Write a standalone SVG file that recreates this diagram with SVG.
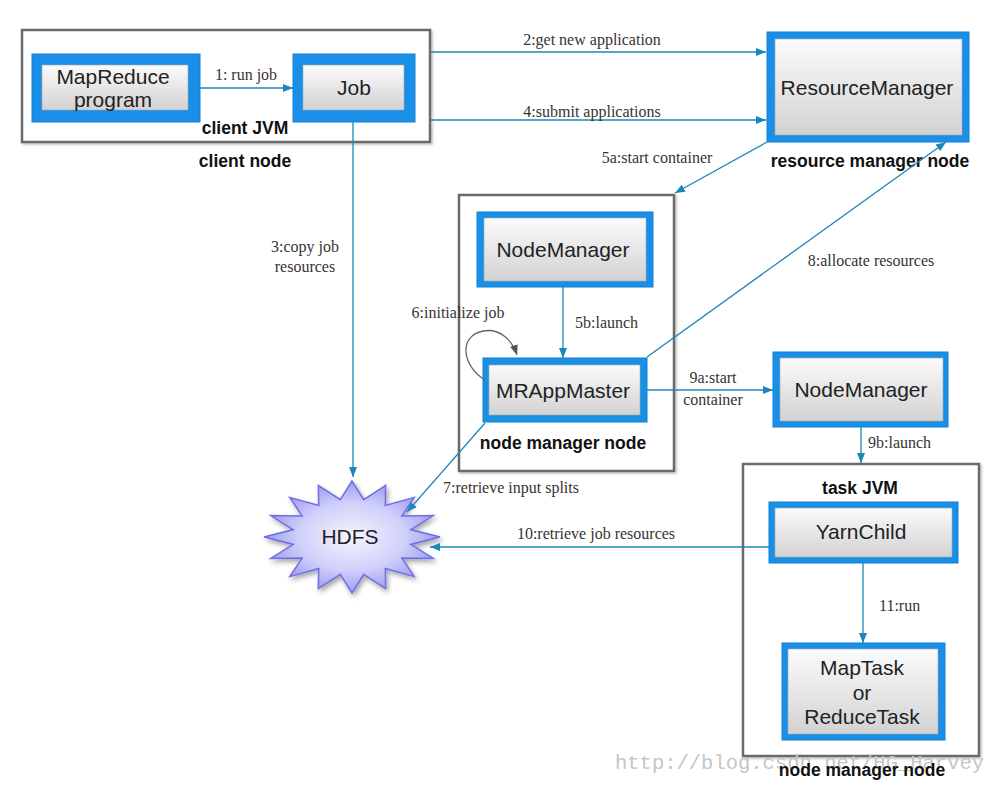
<svg xmlns="http://www.w3.org/2000/svg" width="1002" height="785" viewBox="0 0 1002 785">
<defs>
<linearGradient id="gInner" x1="0" y1="0" x2="0" y2="1">
<stop offset="0" stop-color="#fbfbfb"/>
<stop offset="1" stop-color="#d2d2d2"/>
</linearGradient>
<radialGradient id="gStar" cx="0.5" cy="0.5" r="0.5">
<stop offset="0" stop-color="#f4f4ff"/>
<stop offset="0.6" stop-color="#d0d0fa"/>
<stop offset="1" stop-color="#9c9cf0"/>
</radialGradient>
<filter id="shadow" x="-20%" y="-20%" width="140%" height="140%">
<feDropShadow dx="2" dy="3" stdDeviation="2.5" flood-color="#000" flood-opacity="0.35"/>
</filter>
<filter id="boxShadow" x="-5%" y="-5%" width="110%" height="110%">
<feDropShadow dx="1.5" dy="1.5" stdDeviation="1.2" flood-color="#000" flood-opacity="0.25"/>
</filter>
<marker id="arr" markerWidth="10" markerHeight="8" refX="10" refY="4" orient="auto" markerUnits="userSpaceOnUse">
<path d="M0,0 L10,4 L0,8 z" fill="#1b87b9"/>
</marker>
<marker id="arrGray" markerWidth="10" markerHeight="8" refX="10" refY="4" orient="auto" markerUnits="userSpaceOnUse">
<path d="M0,0 L10,4 L0,8 z" fill="#555"/>
</marker>
</defs>
<style>
.container{fill:#fff;stroke:#6b6b6b;stroke-width:2.5;filter:url(#boxShadow)}
.outer{fill:#1a8fe8;stroke:#0f80d6;stroke-width:1}
.inner{fill:url(#gInner);stroke:#a8a8a8;stroke-width:0.6}
.nt{font-family:"Liberation Sans",Arial,sans-serif;font-size:21px;fill:#222;text-anchor:middle}
.bt{font-family:"Liberation Sans",Arial,sans-serif;font-size:17.5px;font-weight:bold;fill:#111;text-anchor:middle}
.lt{font-family:"Liberation Serif","Times New Roman",serif;font-size:16px;fill:#3a3232}
.c{text-anchor:middle}
.conn{stroke:#1b87b9;stroke-width:1.3;fill:none;marker-end:url(#arr)}
.loop{stroke:#666;stroke-width:1.3;fill:none;marker-end:url(#arrGray)}
.wm{font-family:"Liberation Mono","Courier New",monospace;font-size:20.5px;fill:#c6c6c6}
</style>
<rect width="1002" height="785" fill="#fff"/>

<g id="client-jvm">
<rect class="container" x="22" y="30" width="408" height="112"/>
<text class="bt" x="245" y="134">client JVM</text>
<text class="bt" x="245" y="167">client node</text>
</g>

<g id="nm-container">
<rect class="container" x="459" y="195" width="215" height="276"/>
<text class="bt" x="563" y="449">node manager node</text>
</g>

<g id="task-jvm">
<rect class="container" x="743" y="464" width="236" height="292"/>
<text class="bt" x="860" y="494">task JVM</text>
</g>

<text class="wm" x="615" y="769">http://blog.csdn.net/HG_Harvey</text>
<text class="bt" x="862" y="776">node manager node</text>

<g id="mapreduce-program">
<rect class="outer" x="32" y="54" width="168" height="68"/>
<rect class="inner" x="42" y="65" width="146" height="45"/>
<text class="nt" x="113" y="84">MapReduce</text>
<text class="nt" x="113" y="107">program</text>
</g>

<g id="job">
<rect class="outer" x="293" y="54" width="122" height="68"/>
<rect class="inner" x="303" y="65" width="101" height="45"/>
<text class="nt" x="354" y="95">Job</text>
</g>

<g id="resource-manager">
<rect class="outer" x="767" y="32" width="202" height="110"/>
<rect class="inner" x="775" y="39" width="187" height="96"/>
<text class="nt" x="867" y="95">ResourceManager</text>
<text class="bt" x="870" y="167">resource manager node</text>
</g>

<g id="node-manager-1">
<rect class="outer" x="477" y="212" width="176" height="75"/>
<rect class="inner" x="484" y="218" width="162" height="63"/>
<text class="nt" x="563" y="257">NodeManager</text>
</g>

<g id="mrappmaster">
<rect class="outer" x="483" y="358" width="164" height="64"/>
<rect class="inner" x="489" y="365" width="151" height="50"/>
<text class="nt" x="563" y="398">MRAppMaster</text>
</g>

<g id="node-manager-2">
<rect class="outer" x="773" y="352" width="175" height="75"/>
<rect class="inner" x="780" y="358" width="163" height="63"/>
<text class="nt" x="861" y="397">NodeManager</text>
</g>

<g id="yarnchild">
<rect class="outer" x="769" y="502" width="189" height="61"/>
<rect class="inner" x="775" y="508" width="177" height="49"/>
<text class="nt" x="861" y="539">YarnChild</text>
</g>

<g id="task">
<rect class="outer" x="782" y="643" width="163" height="97"/>
<rect class="inner" x="788" y="649" width="150" height="85"/>
<text class="nt" x="862" y="675">MapTask</text>
<text class="nt" x="862" y="700">or</text>
<text class="nt" x="862" y="724">ReduceTask</text>
</g>

<g id="hdfs">
<polygon filter="url(#shadow)" fill="url(#gStar)" stroke="#6f6fe6" stroke-width="1.5" stroke-linejoin="miter" points="352,481 363.7,499.7 385.7,485.3 385.3,505.4 414.2,497.4 401.9,515.9 433.3,515.6 410.8,529.6 440,537 410.8,544.4 433.3,558.4 401.9,558.1 414.2,576.6 385.3,568.6 385.7,588.7 363.7,574.3 352,593 340.3,574.3 318.3,588.7 318.7,568.6 289.8,576.6 302.1,558.1 270.7,558.4 293.2,544.4 264,537 293.2,529.6 270.7,515.6 302.1,515.9 289.8,497.4 318.7,505.4 318.3,485.3 340.3,499.7"/>
<text class="nt" x="350" y="544">HDFS</text>
</g>

<g id="connectors">
<line class="conn" x1="200" y1="88" x2="293" y2="88"/>
<line class="conn" x1="430" y1="52" x2="766" y2="52"/>
<line class="conn" x1="430" y1="120" x2="766" y2="120"/>
<line class="conn" x1="353" y1="122" x2="353" y2="477"/>
<line class="conn" x1="767" y1="142" x2="675" y2="193"/>
<line class="conn" x1="563" y1="287" x2="563" y2="358"/>
<path class="loop" d="M485,380 C462,366 458,336 483,331 C500,328 512,340 517,355"/>
<line class="conn" x1="485" y1="423" x2="407" y2="512"/>
<line class="conn" x1="647" y1="357" x2="946" y2="142"/>
<line class="conn" x1="647" y1="390" x2="773" y2="390"/>
<line class="conn" x1="861" y1="427" x2="861" y2="463"/>
<line class="conn" x1="769" y1="547" x2="430" y2="547"/>
<line class="conn" x1="863" y1="563" x2="863" y2="643"/>
</g>

<g id="connector-labels">
<text class="lt c" x="246" y="80">1: run job</text>
<text class="lt c" x="592" y="45">2:get new application</text>
<text class="lt c" x="592" y="117">4:submit applications</text>
<text class="lt c" x="305" y="252">3:copy job</text>
<text class="lt c" x="305" y="272">resources</text>
<text class="lt c" x="657" y="163">5a:start container</text>
<text class="lt" x="575" y="328">5b:launch</text>
<text class="lt c" x="458" y="318">6:initialize job</text>
<text class="lt" x="443" y="493">7:retrieve input splits</text>
<text class="lt c" x="871" y="266">8:allocate resources</text>
<text class="lt c" x="713" y="383">9a:start</text>
<text class="lt c" x="713" y="405">container</text>
<text class="lt" x="868" y="448">9b:launch</text>
<text class="lt c" x="596" y="539">10:retrieve job resources</text>
<text class="lt" x="879" y="611">11:run</text>
</g>
</svg>
